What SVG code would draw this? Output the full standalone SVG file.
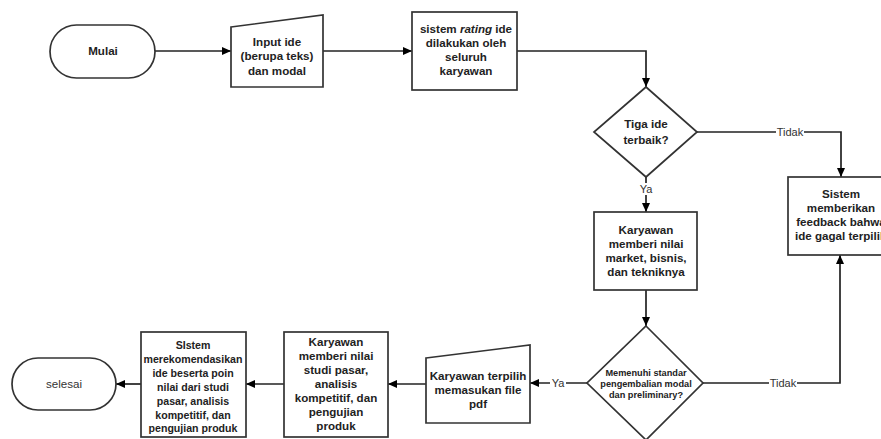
<svg xmlns="http://www.w3.org/2000/svg" width="881" height="439" viewBox="0 0 881 439">
<defs>
<marker id="ah" markerWidth="10" markerHeight="10" refX="9" refY="5" orient="auto" markerUnits="userSpaceOnUse">
<path d="M0,1 L9,5 L0,9 Z" fill="#000"/>
</marker>
<style>
.shape{fill:#fff;stroke:#333;stroke-width:1.7}
.t{font-family:"Liberation Sans",Arial,sans-serif;font-size:11.6px;font-weight:bold;fill:#222;text-anchor:middle}
.m{font-size:10.6px}
.s{font-size:9.2px}
.n{font-family:"Liberation Sans",Arial,sans-serif;font-size:11px;fill:#333;text-anchor:middle}
.c{fill:none;stroke:#222;stroke-width:1.7}
.lb{fill:#fff}
</style>
</defs>
<rect width="881" height="439" fill="#fff"/>
<g id="connectors">
<path class="c" d="M155,51 L231,51" marker-end="url(#ah)"/>
<path class="c" d="M323,51 L412,51" marker-end="url(#ah)"/>
<path class="c" d="M517,51 L646,51 L646,87" marker-end="url(#ah)"/>
<path class="c" d="M697,132 L841,132 L841,177" marker-end="url(#ah)"/>
<path class="c" d="M646,177 L646,212" marker-end="url(#ah)"/>
<path class="c" d="M646,290 L646,326" marker-end="url(#ah)"/>
<path class="c" d="M703,383 L840,383 L840,255" marker-end="url(#ah)"/>
<path class="c" d="M587,383 L530,383" marker-end="url(#ah)"/>
<path class="c" d="M426,384 L388,384" marker-end="url(#ah)"/>
<path class="c" d="M284,384 L246,384" marker-end="url(#ah)"/>
<path class="c" d="M141,384 L116,384" marker-end="url(#ah)"/>
<rect class="lb" x="776" y="126" width="28" height="12"/>
<text class="n" x="790" y="136">Tidak</text>
<rect class="lb" x="638" y="183" width="16" height="12"/>
<text class="n" x="646" y="193">Ya</text>
<rect class="lb" x="769" y="377" width="28" height="12"/>
<text class="n" x="783" y="387">Tidak</text>
<rect class="lb" x="550" y="377" width="16" height="12"/>
<text class="n" x="558" y="387">Ya</text>
</g>
<g id="mulai">
<rect class="shape" x="50" y="25" width="105" height="53" rx="26.5"/>
<text class="t" x="103" y="55">Mulai</text>
</g>
<g id="input">
<path class="shape" d="M231,27 L323,15 L323,87 L231,87 Z"/>
<text class="t" x="277" y="46">Input ide</text>
<text class="t" x="277" y="60">(berupa teks)</text>
<text class="t" x="277" y="75">dan modal</text>
</g>
<g id="rating">
<rect class="shape" x="412" y="12" width="105" height="78"/>
<text class="t" x="466" y="33">sistem <tspan font-style="italic">rating</tspan> ide</text>
<text class="t" x="466" y="47">dilakukan  oleh</text>
<text class="t" x="466" y="61">seluruh</text>
<text class="t" x="466" y="75">karyawan</text>
</g>
<g id="tiga">
<path class="shape" d="M646,87 L697,132 L646,177 L594,132 Z"/>
<text class="t" x="646" y="128">Tiga ide</text>
<text class="t" x="646" y="144">terbaik?</text>
</g>
<g id="feedback">
<rect class="shape" x="788" y="177" width="106" height="78"/>
<text class="t" x="841" y="198">Sistem</text>
<text class="t" x="841" y="212">memberikan</text>
<text class="t" x="841" y="226">feedback bahwa</text>
<text class="t" x="841" y="240">ide gagal terpilih</text>
</g>
<g id="nilai">
<rect class="shape" x="594" y="212" width="103" height="78"/>
<text class="t" x="646" y="234">Karyawan</text>
<text class="t" x="646" y="248">memberi nilai</text>
<text class="t" x="646" y="262">market, bisnis,</text>
<text class="t" x="646" y="276">dan tekniknya</text>
</g>
<g id="standar">
<path class="shape" d="M646,326 L703,383 L646,440 L587,383 Z"/>
<text class="t s" x="646" y="376">Memenuhi standar</text>
<text class="t s" x="646" y="387">pengembalian modal</text>
<text class="t s" x="646" y="398">dan preliminary?</text>
</g>
<g id="pdf">
<path class="shape" d="M426,358 L530,345 L530,423 L426,423 Z"/>
<text class="t" x="478" y="380">Karyawan terpilih</text>
<text class="t" x="478" y="394">memasukan file</text>
<text class="t" x="478" y="408">pdf</text>
</g>
<g id="studi">
<rect class="shape" x="284" y="332" width="104" height="105"/>
<text class="t" x="336" y="346">Karyawan</text>
<text class="t" x="336" y="360">memberi nilai</text>
<text class="t" x="336" y="374">studi pasar,</text>
<text class="t" x="336" y="388">analisis</text>
<text class="t" x="336" y="402">kompetitif, dan</text>
<text class="t" x="336" y="416">pengujian</text>
<text class="t" x="336" y="430">produk</text>
</g>
<g id="rekomendasi">
<rect class="shape" x="141" y="332" width="105" height="105"/>
<text class="t m" x="193" y="349">SIstem</text>
<text class="t m" x="193" y="363">merekomendasikan</text>
<text class="t m" x="193" y="377">ide beserta poin</text>
<text class="t m" x="193" y="391">nilai dari studi</text>
<text class="t m" x="193" y="405">pasar, analisis</text>
<text class="t m" x="193" y="419">kompetitif, dan</text>
<text class="t m" x="193" y="432">pengujian produk</text>
</g>
<g id="selesai">
<rect class="shape" x="12" y="358" width="104" height="52" rx="26"/>
<text class="n" x="64" y="388" style="font-size:11.6px">selesai</text>
</g>
</svg>
